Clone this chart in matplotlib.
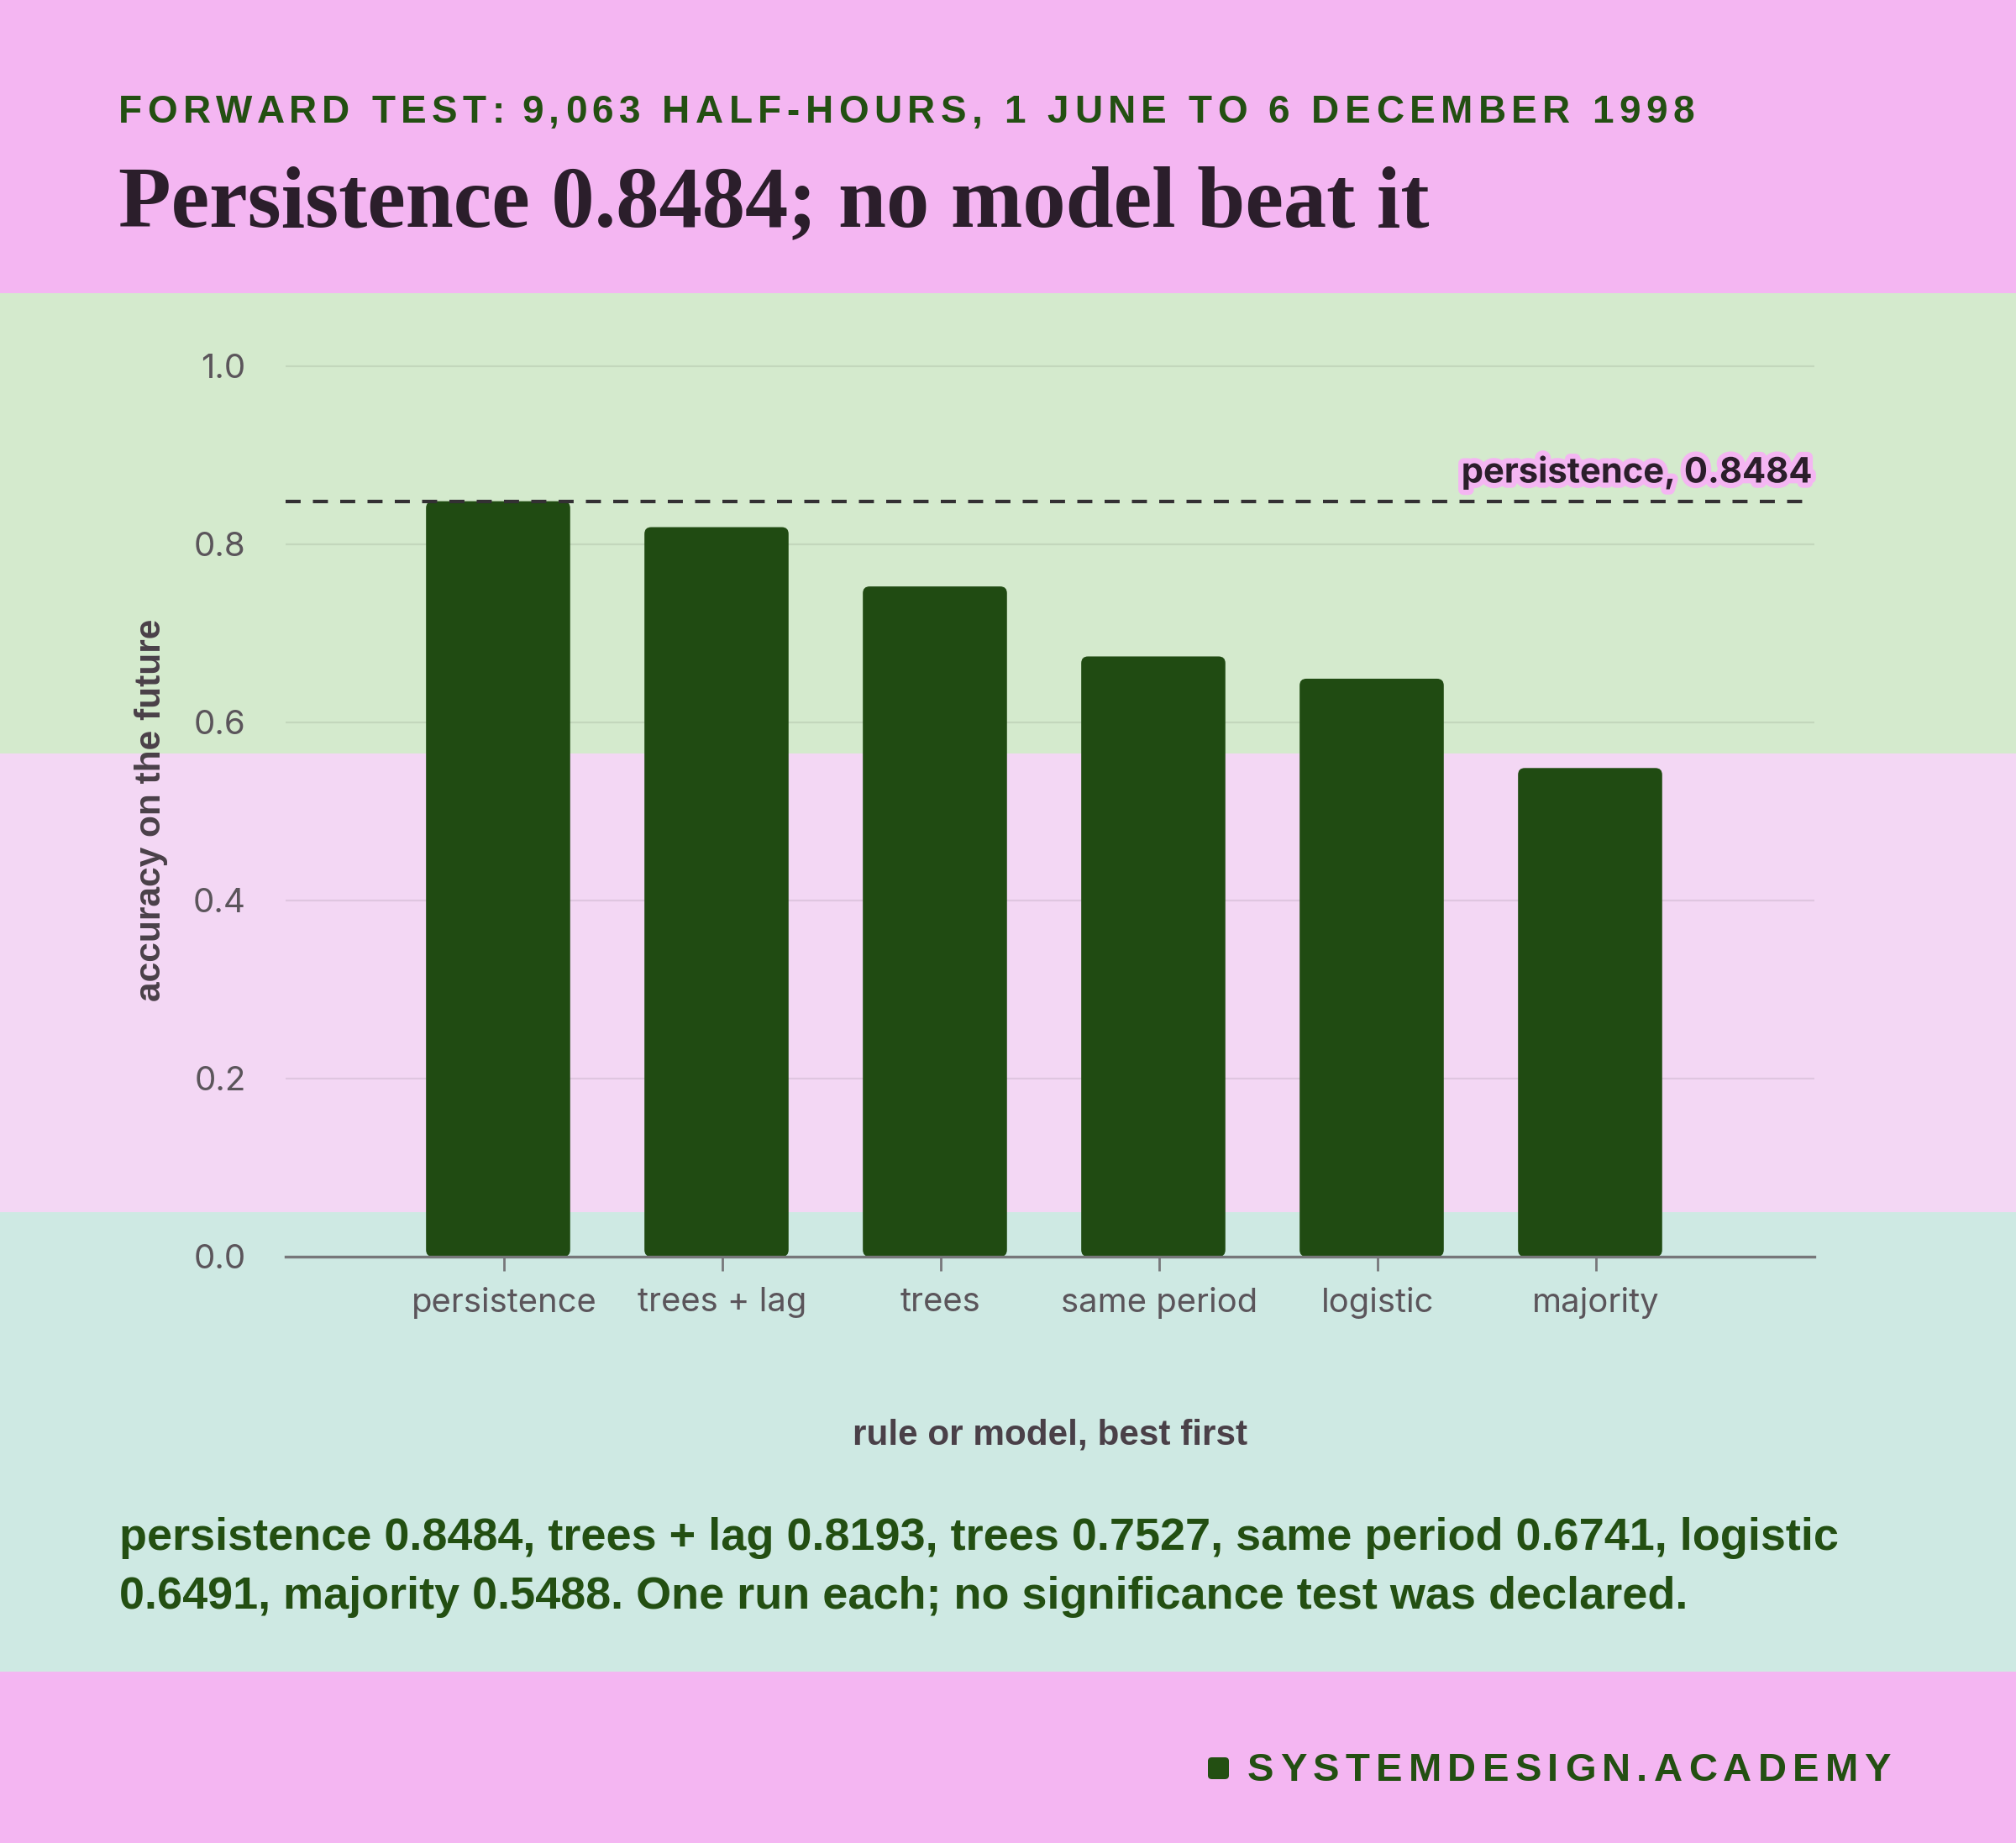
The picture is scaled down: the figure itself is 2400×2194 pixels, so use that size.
import matplotlib
matplotlib.use("Agg")
import matplotlib.pyplot as plt
import matplotlib.patheffects as pe
from matplotlib.patches import Rectangle, FancyBboxPatch
from matplotlib.font_manager import FontProperties

# data
models = ["persistence", "trees + lag", "trees", "same period", "logistic", "majority"]
accuracy = [0.8484, 0.8193, 0.7527, 0.6741, 0.6491, 0.5488]
baseline = 0.8484
yticks = [0.0, 0.2, 0.4, 0.6, 0.8, 1.0]

subtitle = "FORWARD TEST: 9,063 HALF-HOURS, 1 JUNE TO 6 DECEMBER 1998"
title = "Persistence 0.8484; no model beat it"
caption = ["persistence 0.8484, trees + lag 0.8193, trees 0.7527, same period 0.6741, logistic",
           "0.6491, majority 0.5488. One run each; no significance test was declared."]
brand = "SYSTEMDESIGN.ACADEMY"

PINK = "#f4b6f2"
BAND_GREEN = "#d4eacd"
BAND_PINK = "#f3d7f4"
BAND_MINT = "#cee9e3"
BAR = "#204b12"
INK_GREEN = "#234f12"
TITLE_INK = "#2b1e2b"
TICK_INK = "#5b555b"
LABEL_INK = "#4a4048"

W, H, DPI = 2400, 2194, 200
fig = plt.figure(figsize=(W / DPI, H / DPI), dpi=DPI)
fig.patch.set_facecolor(PINK)
renderer = fig.canvas.get_renderer()


def fy(py):
    return 1 - py / H


# background bands
for top, bot, col in [(349, 897, BAND_GREEN), (897, 1443, BAND_PINK), (1443, 1990, BAND_MINT)]:
    fig.add_artist(Rectangle((0, fy(bot)), 1, (bot - top) / H, transform=fig.transFigure,
                             color=col, zorder=0, lw=0))


def text_width(s, fp):
    if not s:
        return 0.0
    w, _, _ = renderer.get_text_width_height_descent(s, fp, ismath=False)
    return w


def tracked(x0, x1, y, s, fp, color):
    natural = text_width(s, fp)
    track = (x1 - x0 - natural) / (len(s) - 1)
    for i, ch in enumerate(s):
        x = x0 + text_width(s[:i], fp) + i * track
        fig.text(x / W, fy(y), ch, fontproperties=fp, color=color, va="baseline", ha="left")


def fitted(x0, x1, y, s, family, color, size0=20, weight="bold"):
    fp = FontProperties(family=family, weight=weight, size=size0)
    fp.set_size(size0 * (x1 - x0) / text_width(s, fp))
    fig.text(x0 / W, fy(y), s, fontproperties=fp, color=color, va="baseline", ha="left")
    return fp


# header
tracked(141, 2017, 146, subtitle, FontProperties(family="Liberation Sans", weight="bold", size=16.5), INK_GREEN)
fitted(141, 1702, 269, title, "Liberation Serif", TITLE_INK)

# chart
ax_bottom, ax_height = 1496, 1060 * 1.02
ax = fig.add_axes([340 / W, fy(ax_bottom), 1820 / W, ax_height / H])
ax.set_facecolor("none")
ax.set_xlim(-1, len(models))
ax.set_ylim(0, 1.02)

xs = list(range(len(models)))
bars = ax.bar([x - 0.027 for x in xs], accuracy, width=0.66, color=BAR)
aspect = (1 / 1060) / (1 / 260)
for b in bars:
    x, y0 = b.get_xy()
    patch = FancyBboxPatch((x, y0), b.get_width(), b.get_height(),
                           boxstyle="round,pad=0,rounding_size=0.031",
                           mutation_aspect=aspect, fc=BAR, ec="none", zorder=2)
    ax.add_patch(patch)
    b.remove()

ax.axhline(baseline, color="#333033", lw=1.5, dashes=(4.3, 3.5), zorder=3)
ax.annotate(f"persistence, {baseline:.4f}", xy=(1, baseline), xycoords=("axes fraction", "data"),
            xytext=(-1, 8), textcoords="offset points", ha="right", va="baseline",
            fontsize=15, fontweight="bold", family="Inter", color=TITLE_INK, zorder=4,
            path_effects=[pe.withStroke(linewidth=4.5, foreground=PINK)])

ax.set_yticks(yticks)
ax.set_yticklabels([f"{v:.1f}" for v in yticks])
ax.set_xticks(xs)
ax.set_xticklabels(models)
ax.yaxis.grid(True, color="black", alpha=0.08, lw=0.8)
ax.set_axisbelow(True)
for side in ["left", "top", "right"]:
    ax.spines[side].set_visible(False)
ax.spines["bottom"].set_color("#77777a")
ax.spines["bottom"].set_linewidth(1.2)
ax.spines["bottom"].set_zorder(5)
ax.tick_params(axis="y", length=0, pad=17, labelsize=14.5, labelcolor=TICK_INK)
ax.tick_params(axis="x", length=6, width=1, color="#77777a", pad=7, labelsize=14.4, labelcolor=TICK_INK)
for lab in ax.get_xticklabels() + ax.get_yticklabels():
    lab.set_family("Inter")

ax.set_xlabel("rule or model, best first", family="Liberation Sans", weight="bold",
              fontsize=15.2, color=LABEL_INK)
ax.xaxis.set_label_coords(0.5, -(1719 - ax_bottom) / ax_height)
ax.xaxis.label.set_va("baseline")
ax.set_ylabel("accuracy on the future", family="Liberation Sans", weight="bold",
              fontsize=15.3, color=LABEL_INK)
ax.yaxis.set_label_coords((180 - 340) / 1820, (ax_bottom - 964) / ax_height)
ax.yaxis.label.set_va("center")

# caption
cap_fp = fitted(142, 2186, 1845, caption[0], "Liberation Sans", INK_GREEN)
fig.text(142 / W, fy(1915), caption[1], fontproperties=cap_fp, color=INK_GREEN, va="baseline")

# footer
fig.add_artist(FancyBboxPatch((1438 / W, fy(2118)), 25 / W, 26 / H,
                              boxstyle="round,pad=0,rounding_size=0.002", transform=fig.transFigure,
                              fc=INK_GREEN, ec="none"))
tracked(1485, 2251, 2120, brand, FontProperties(family="Liberation Sans", weight="bold", size=17), INK_GREEN)

fig.savefig("out.png", dpi=DPI, facecolor=fig.get_facecolor())
